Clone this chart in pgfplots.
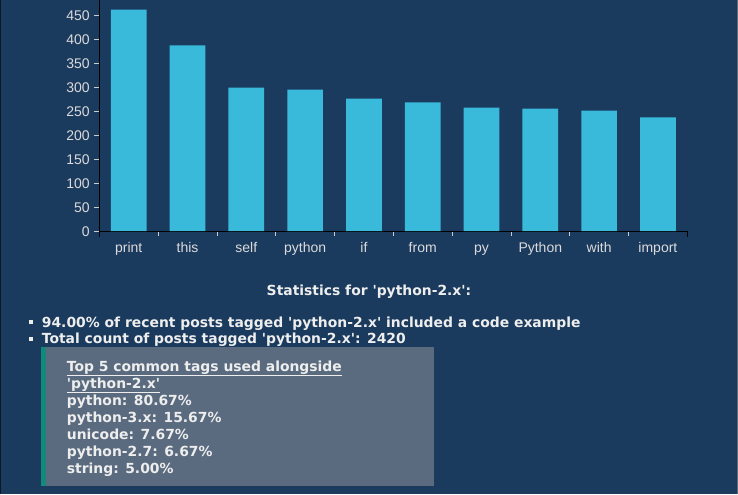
\documentclass[border=0pt]{standalone}
\usepackage{pgfplots}
\pgfplotsset{compat=1.18}
\usepackage{fontspec}
\setmainfont{Liberation Sans}
\newfontfamily\verd{DejaVu Sans}
\definecolor{bg}{HTML}{1A3A5E}
\definecolor{bar}{HTML}{3ABADB}
\definecolor{boxc}{HTML}{5A6B80}
\definecolor{teal}{HTML}{13897C}
\definecolor{txt}{HTML}{EEEEEE}
\definecolor{tick}{HTML}{C8CDD3}
\begin{document}
\begin{tikzpicture}[x=1pt,y=1pt]
\fill[bg] (0,0) rectangle (738,494);
\fill[black!60!bg] (0,0) rectangle (1,494);
\fill[gray!70!bg] (737,0) rectangle (738,494);
\begin{axis}[
  at={(99.3pt,263.3pt)}, anchor=south west,
  scale only axis, width=588pt, height=230.7pt,
  xmin=-0.5, xmax=9.5, ymin=0, ymax=482,
  axis x line*=bottom, axis y line*=left,
  axis line style={draw=black, line width=1pt, -},
  ytick={0,50,...,450},
  xtick={-0.5,0.5,...,9.5}, xticklabels={},
  extra x ticks={0,1,...,9},
  extra x tick labels={print,this,self,python,if,from,py,Python,with,import},
  extra x tick style={major tick length=0pt},
  tick align=outside, major tick length=5pt,
  tick style={draw=tick, line width=0.8pt},
  ticklabel style={font=\fontsize{14}{16}\selectfont, text=txt!92!black},
  /pgf/number format/assume math mode=true,
  x tick label style={yshift=-7pt, text height=10.5pt, text depth=3pt},
  y tick label style={xshift=-1pt},
  clip=false,
]
\addplot[ybar, bar width=35.7pt, fill=bar, draw=none] coordinates {
(0,463) (1,388) (2,300) (3,296) (4,277) (5,269) (6,258) (7,256) (8,252) (9,238)};
\draw[black, line width=1pt] (axis cs:-0.5,0) -- ++(0pt,-6pt);
\draw[black, line width=1pt] (axis cs:9.5,0) -- ++(0pt,-6pt);
\end{axis}
\begin{scope}[every node/.style={inner sep=0pt, text=txt, font=\verd\bfseries\fontsize{13.9}{16}\selectfont}]
\node[anchor=base] at (369,494-295.3) {Statistics for 'python-2.x':};
\fill[txt] (29.3,494-323.7) rectangle ++(4,4);
\fill[txt] (29.3,494-340.3) rectangle ++(4,4);
\node[anchor=base west] at (41.7,494-326.7) {94.00\% of recent posts tagged 'python-2.x' included a code example};
\node[anchor=base west] at (41.7,494-343.3) {Total count of posts tagged 'python-2.x': 2420};
\fill[boxc] (41,494-485.7) rectangle (433.7,494-347);
\fill[teal] (41,494-485.7) rectangle (45.7,494-347);
\node[anchor=base west] at (66.7,494-370.6) {\underline{Top 5 common tags used alongside}};
\node[anchor=base west] at (66.7,494-387.6) {\underline{'python-2.x'}};
\node[anchor=base west] at (66.7,494-404.6) {python: 80.67\%};
\node[anchor=base west] at (66.7,494-421.6) {python-3.x: 15.67\%};
\node[anchor=base west] at (66.7,494-438.6) {unicode: 7.67\%};
\node[anchor=base west] at (66.7,494-455.6) {python-2.7: 6.67\%};
\node[anchor=base west] at (66.7,494-472.6) {string: 5.00\%};
\end{scope}
\end{tikzpicture}
\end{document}
